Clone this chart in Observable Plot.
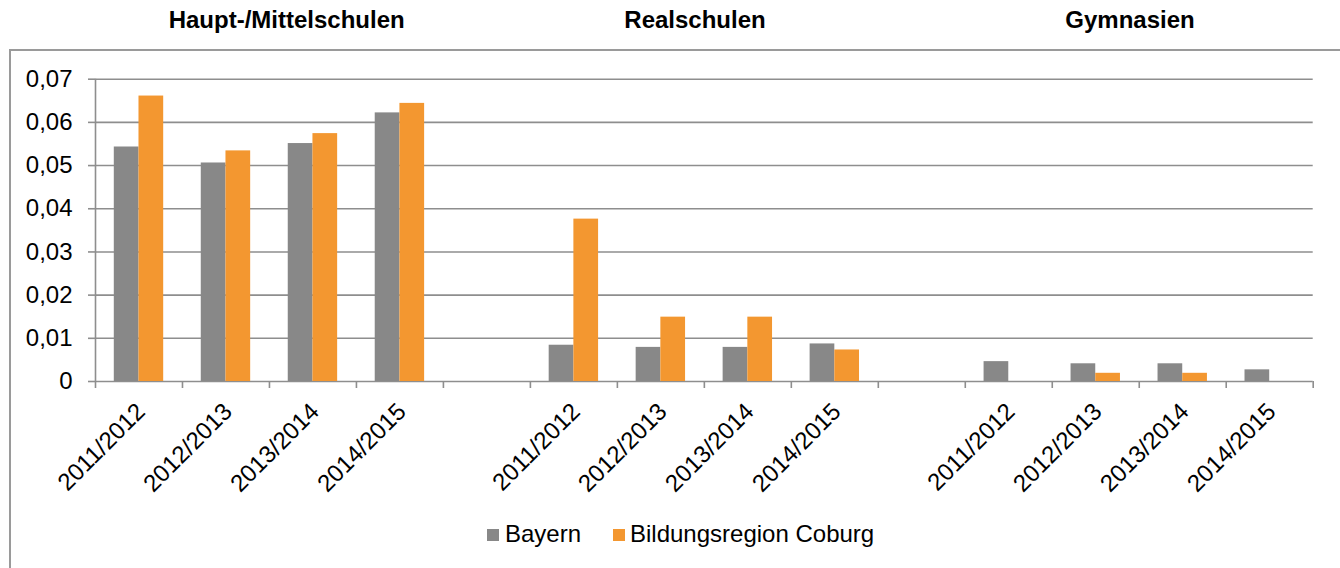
<!DOCTYPE html>
<html>
<head>
<meta charset="utf-8">
<script src="https://cdn.jsdelivr.net/npm/d3@7"></script>
<script src="https://cdn.jsdelivr.net/npm/@observablehq/plot@0.6"></script>
<style>
  html, body { margin: 0; padding: 0; background: #fff; }
  #wrap { position: relative; width: 1340px; height: 568px; overflow: hidden; font-family: "Liberation Sans", Arial, sans-serif; }
  #frame { position: absolute; left: 9px; top: 49px; width: 1400px; height: 600px; border-left: 2px solid #9a9a9a; border-top: 2px solid #9a9a9a; }
  #chart { position: absolute; left: 0; top: 0; }
  .title { position: absolute; top: 7.5px; font-size: 24px; font-weight: bold; line-height: 24px; white-space: nowrap; transform: translateX(-50%); color: #000; }
  .lg-sw { position: absolute; width: 12px; height: 12px; top: 529px; }
  .lg-tx { position: absolute; top: 522px; font-size: 24px; line-height: 24px; white-space: nowrap; color: #000; }
</style>
</head>
<body>
<div id="wrap">
  <div id="frame"></div>
  <div id="chart"></div>
</div>
<script>
// ---- data ----
const schoolTypes = ["Haupt-/Mittelschulen", "Realschulen", "Gymnasien"];
const years = ["2011/2012", "2012/2013", "2013/2014", "2014/2015"];
const seriesNames = ["Bayern", "Bildungsregion Coburg"];
const bayern = [
  [0.0543, 0.0506, 0.0551, 0.0622],
  [0.0084, 0.0079, 0.0079, 0.0087],
  [0.0046, 0.0041, 0.0041, 0.0027]
];
const coburg = [
  [0.0661, 0.0534, 0.0574, 0.0644],
  [0.0376, 0.0149, 0.0149, 0.0073],
  [0, 0.0019, 0.0019, 0]
];
const yTicks = [0, 0.01, 0.02, 0.03, 0.04, 0.05, 0.06, 0.07];
const seriesColors = ["#888888", "#f39730"];

// ---- layout / style ----
const W = 1340, H = 568;
const mL = 95, mR = 27.3, mT = 78.7, mB = 187;
const gridColor = "#8e8e8e";
const font = "'Liberation Sans', Arial, sans-serif";

// build category table (with empty slot between groups)
const rows = [];
const domain = [];
schoolTypes.forEach((s, si) => {
  if (si > 0) domain.push("gap" + si);
  years.forEach((y, yi) => {
    const key = si + "|" + y;
    domain.push(key);
    rows.push({key, year: y, bayern: bayern[si][yi], coburg: coburg[si][yi]});
  });
});
const bw = (W - mL - mR) / domain.length;
const half = bw / 2;
const barW = bw * 0.284;

const chart = Plot.plot({
  width: W,
  height: H,
  marginLeft: mL,
  marginRight: mR,
  marginTop: mT,
  marginBottom: mB,
  style: {fontFamily: font, fontSize: "24px", color: "#000", background: "transparent"},
  x: {type: "band", domain, padding: 0, round: false, axis: null},
  y: {domain: [0, 0.07], axis: null},
  marks: [
    Plot.gridY(yTicks, {stroke: gridColor, strokeOpacity: 1, strokeWidth: 1.6}),
    Plot.axisY(yTicks, {
      tickSize: 7, tickPadding: 16, stroke: gridColor, strokeWidth: 1.6, fill: "#000",
      fontSize: 24, label: null,
      tickFormat: d => d === 0 ? "0" : d.toFixed(2).replace(".", ",")
    }),
    Plot.barY(rows, {x: "key", y: "bayern", fill: seriesColors[0], insetLeft: half - barW, insetRight: half}),
    Plot.barY(rows, {x: "key", y: "coburg", fill: seriesColors[1], insetLeft: half, insetRight: half - barW}),
    // y axis line
    Plot.ruleX([domain[0]], {x: d => d, y1: 0, y2: 0.07, dx: -half, stroke: gridColor, strokeWidth: 1.6}),
    // category boundary ticks
    Plot.ruleX(domain, {x: d => d, y1: 0, y2: 0, dx: -half, insetBottom: -7, stroke: gridColor, strokeWidth: 1.6}),
    Plot.ruleX([domain[domain.length - 1]], {x: d => d, y1: 0, y2: 0, dx: half, insetBottom: -7, stroke: gridColor, strokeWidth: 1.6}),
    // rotated year labels
    Plot.text(rows, {
      x: "key", frameAnchor: "bottom", text: "year", rotate: -45,
      textAnchor: "end", lineAnchor: "middle", dx: 2, dy: 26, fontSize: 24, fill: "#000"
    })
  ]
});
document.getElementById("chart").appendChild(chart);

// titles
const wrap = document.getElementById("wrap");
const titleCenters = [286.7, 695, 1130];
schoolTypes.forEach((s, i) => {
  const d = document.createElement("div");
  d.className = "title";
  d.style.left = titleCenters[i] + "px";
  d.textContent = s;
  wrap.appendChild(d);
});

// legend
const swLeft = [487, 612.5];
const txLeft = [505, 630];
seriesNames.forEach((n, i) => {
  const sw = document.createElement("div");
  sw.className = "lg-sw";
  sw.style.left = swLeft[i] + "px";
  sw.style.background = seriesColors[i];
  wrap.appendChild(sw);
  const tx = document.createElement("div");
  tx.className = "lg-tx";
  tx.style.left = txLeft[i] + "px";
  tx.textContent = n;
  wrap.appendChild(tx);
});
</script>
</body>
</html>
